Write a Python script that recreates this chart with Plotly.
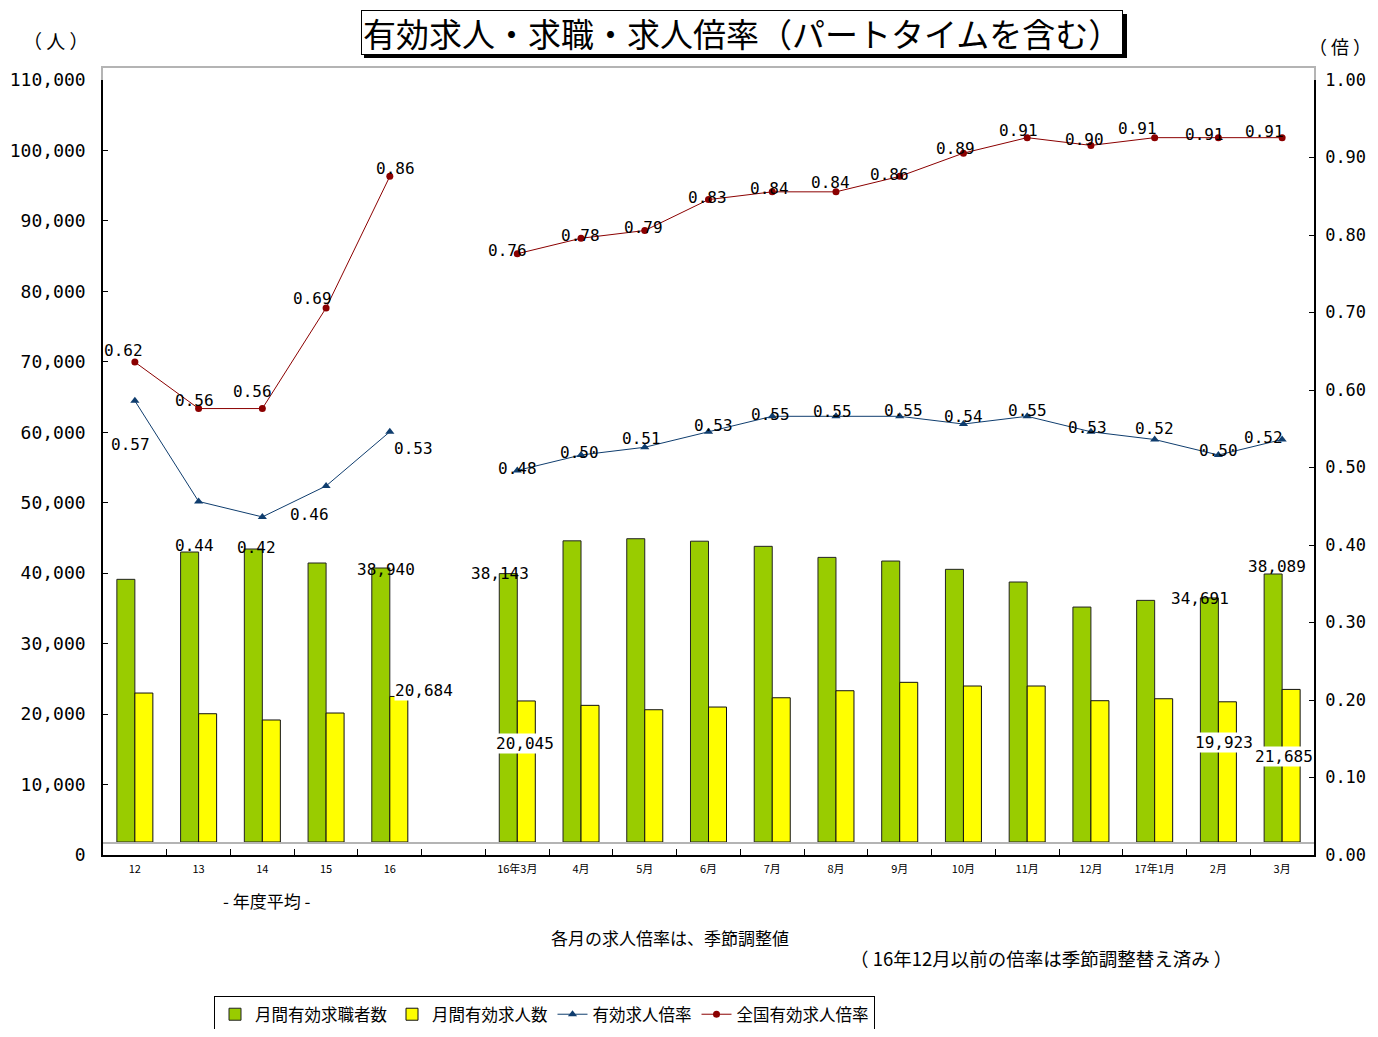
import plotly.graph_objects as go

# ---------------- data ----------------
categories = ["12", "13", "14", "15", "16", " ", "16年3月", "4月", "5月", "6月", "7月",
              "8月", "9月", "10月", "11月", "12月", "17年1月", "2月", "3月"]
job_seekers = [37330, 41210, 41640, 39650, 38940, None, 38143, 42800, 43100, 42750,
               42020, 40450, 39930, 38750, 36950, 33390, 34340, 34691, 38089]
job_openings = [21170, 18230, 17340, 18330, 20684, None, 20045, 19420, 18800, 19180,
                20500, 21500, 22690, 22170, 22170, 20080, 20360, 19923, 21685]
ratio_local = [0.57, 0.44, 0.42, 0.46, 0.53, None, 0.48, 0.50, 0.51, 0.53, 0.55,
               0.55, 0.55, 0.54, 0.55, 0.53, 0.52, 0.50, 0.52]
ratio_national = [0.62, 0.56, 0.56, 0.69, 0.86, None, 0.76, 0.78, 0.79, 0.83, 0.84,
                  0.84, 0.86, 0.89, 0.91, 0.90, 0.91, 0.91, 0.91]
labeled_bars = [4, 6, 17, 18]

series_names = ["月間有効求職者数", "月間有効求人数", "有効求人倍率", "全国有効求人倍率"]
title_text = "有効求人・求職・求人倍率（パートタイムを含む）"

# ---------------- styles ----------------
# the page body has an 8px margin, so the figure is drawn 8px right/down
W, H = 1362, 1021
ML, MT = 95, 60
PW, PH = 1211, 787
MR = W - ML - PW
MB = H - MT - PH
JP = "Noto Sans CJK JP"
NUM = "DejaVu Sans Mono"
GREEN, YELLOW = "#99CC00", "#FFFF00"
BLUE, RED = "#0f3d6e", "#8b0000"


def px_x(x):  # page pixel -> paper
    return (x - 103) / PW


def px_y(y):
    return (855 - y) / PH


data_dom = [13 / PH, 1.0]
axis_dom = [0.0, 775 / PH]

red_off = [(-11, 12), (-4, 8), (-10, 17), (-14, 9), (6, 8), None, (-10, 3), (-1, 3),
           (-1, 3), (-1, 2), (-3, 3), (-5, 9), (-10, 2), (-8, 5), (-9, 7), (-6, 6),
           (-17, 9), (-14, 3), (-18, 6)]
blue_off = [(-4, -44), (-4, -44), (-6, -31), (-17, -29), (24, -17), None, (0, 2),
            (-2, 3), (-3, 9), (5, 6), (-2, 2), (-3, 5), (4, 6), (0, 8), (0, 6),
            (-3, 4), (0, 11), (0, 5), (-19, 2)]
green_off = {4: (-4, -1), 6: (-17, 0), 17: (-18, -1), 18: (-5, 7)}
yellow_off = {4: (34, 6), 6: (8, -43), 17: (6, -41), 18: (2, -67)}

fig = go.Figure()

# bars
fig.add_trace(go.Bar(x=categories, y=job_seekers, name=series_names[0],
                     marker=dict(color=GREEN, line=dict(color="#222222", width=1)),
                     xaxis="x", yaxis="y", hoverinfo="skip"))
fig.add_trace(go.Bar(x=categories, y=job_openings, name=series_names[1],
                     marker=dict(color=YELLOW, line=dict(color="#111111", width=1)),
                     xaxis="x", yaxis="y", hoverinfo="skip"))
# lines
fig.add_trace(go.Scatter(x=categories, y=ratio_local, name=series_names[2],
                         mode="lines+markers", connectgaps=False,
                         line=dict(color=BLUE, width=1),
                         marker=dict(symbol="triangle-up", size=8, color=BLUE),
                         xaxis="x", yaxis="y2", hoverinfo="skip"))
fig.add_trace(go.Scatter(x=categories, y=ratio_national, name=series_names[3],
                         mode="lines+markers", connectgaps=False,
                         line=dict(color=RED, width=1),
                         marker=dict(symbol="circle", size=7, color=RED),
                         xaxis="x", yaxis="y2", hoverinfo="skip"))
# invisible helper traces for the (offset) tick axes
fig.add_trace(go.Scatter(x=categories, y=job_seekers, mode="markers",
                         marker=dict(opacity=0), showlegend=False,
                         xaxis="x3", yaxis="y3", hoverinfo="skip"))
fig.add_trace(go.Scatter(x=categories, y=ratio_local, mode="markers",
                         marker=dict(opacity=0), showlegend=False,
                         xaxis="x3", yaxis="y4", hoverinfo="skip"))

annotations = []
# ratio labels (x given as category index)
for vals, offs in ((ratio_national, red_off), (ratio_local, blue_off)):
    for i, v in enumerate(vals):
        if v is None:
            continue
        dx, dy = offs[i]
        annotations.append(dict(x=i, y=v, xref="x", yref="y2",
                                text=f"{v:.2f}", showarrow=False,
                                xshift=dx, yshift=dy,
                                font=dict(family=NUM, size=16, color="#000000")))
# bar labels
for i in labeled_bars:
    dx, dy = green_off[i]
    annotations.append(dict(x=i, y=job_seekers[i], xref="x", yref="y",
                            text=f"{job_seekers[i]:,}", showarrow=False,
                            xshift=dx, yshift=dy,
                            font=dict(family=NUM, size=16, color="#000000")))
    dx, dy = yellow_off[i]
    annotations.append(dict(x=i, y=job_openings[i], xref="x", yref="y",
                            text=f"{job_openings[i]:,}", showarrow=False,
                            xshift=dx, yshift=dy, bgcolor="#ffffff", borderpad=0,
                            font=dict(family=NUM, size=16, color="#000000")))


def paper_text(x, y, text, size, **kw):
    return dict(x=px_x(x), y=px_y(y), xref="paper", yref="paper", text=text,
                xanchor="center", yanchor="middle", showarrow=False,
                font=dict(family=JP, size=size, color="#000000"), **kw)


# title box (shadow drawn as a shape behind it)
annotations.append(paper_text(741.5, 32.5, title_text, 33, bgcolor="#ffffff",
                              bordercolor="#000000", borderwidth=1, borderpad=1,
                              height=41))
shapes = [dict(type="rect", xref="paper", yref="paper",
               x0=px_x(364), x1=px_x(1127), y0=px_y(58), y1=px_y(14),
               fillcolor="#000000", line=dict(width=0), layer="above")]
# units and notes
annotations += [
    paper_text(56, 40, "（ 人 ）", 19),
    paper_text(1340, 46, "（ 倍 ）", 18),
    paper_text(267, 900, "- 年度平均 -", 17),
    paper_text(670, 937, "各月の求人倍率は、季節調整値", 17),
    paper_text(1041, 958, "（ 16年12月以前の倍率は季節調整替え済み ）", 18.5),
]

frame = dict(showline=True, linecolor="#b4b4b4", linewidth=2, mirror=True,
             showgrid=False, zeroline=False, showticklabels=False, ticks="")

fig.update_layout(
    width=W, height=H,
    margin=dict(l=ML, r=MR, t=MT, b=MB, pad=0, autoexpand=False),
    paper_bgcolor="#ffffff", plot_bgcolor="rgba(0,0,0,0)",
    barmode="group", bargap=0.435, bargroupgap=0,
    font=dict(family=JP, color="#000000"),
    xaxis=dict(domain=[0, 1], anchor="y", type="category",
               categoryorder="array", categoryarray=categories,
               range=[-0.5, len(categories) - 0.5], **frame),
    yaxis=dict(domain=data_dom, anchor="x", range=[0, 110000], **frame),
    yaxis2=dict(overlaying="y", anchor="x", side="right", range=[0, 1],
                showgrid=False, zeroline=False, showticklabels=False, ticks="",
                showline=False),
    xaxis3=dict(domain=[0, 1], anchor="y3", type="category",
                categoryorder="array", categoryarray=categories,
                range=[-0.5, len(categories) - 0.5],
                showline=True, linecolor="#000000", linewidth=1.5,
                ticks="inside", ticklen=6, tickcolor="#000000", tickson="boundaries",
                showgrid=False, zeroline=False, ticklabelstandoff=3,
                tickfont=dict(family=JP, size=11, color="#000000")),
    yaxis3=dict(domain=axis_dom, anchor="x3", range=[0, 110000], dtick=10000,
                tickformat=",d", showline=True, linecolor="#000000", linewidth=1.5,
                ticks="inside", ticklen=5, tickcolor="#000000",
                showgrid=False, zeroline=False, ticklabelstandoff=12,
                tickfont=dict(family=NUM, size=18, color="#000000")),
    yaxis4=dict(overlaying="y3", anchor="x3", side="right", range=[0, 1], dtick=0.1,
                tickformat=".2f", showline=True, linecolor="#000000", linewidth=1.5,
                ticks="inside", ticklen=5, tickcolor="#000000",
                showgrid=False, zeroline=False, ticklabelstandoff=6,
                tickfont=dict(family=NUM, size=17, color="#000000")),
    legend=dict(orientation="h", x=px_x(214), y=px_y(996), xanchor="left",
                yanchor="top", bordercolor="#000000", borderwidth=1,
                bgcolor="#ffffff", font=dict(family=JP, size=16.5, color="#000000"),
                traceorder="normal"),
    shapes=shapes,
    annotations=annotations,
)

fig.write_html("out.html")
